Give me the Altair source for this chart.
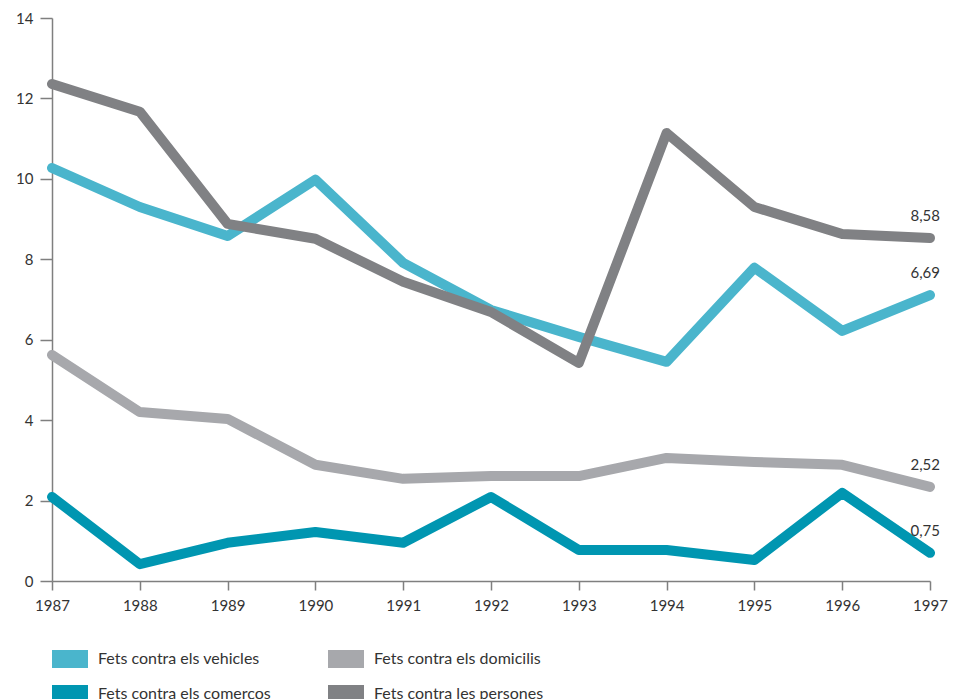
import altair as alt
import pandas as pd

years = list(range(1987, 1998))
vehicles = [10.27, 9.30, 8.58, 9.98, 7.91, 6.74, 6.07, 5.45, 7.79, 6.22, 7.11]
domicilis = [5.62, 4.20, 4.03, 2.89, 2.54, 2.61, 2.61, 3.06, 2.96, 2.89, 2.34]
comercos = [2.09, 0.42, 0.95, 1.22, 0.95, 2.09, 0.77, 0.77, 0.52, 2.19, 0.70]
persones = [12.36, 11.67, 8.88, 8.51, 7.44, 6.69, 5.42, 11.14, 9.30, 8.63, 8.53]

series_names = ["Fets contra els vehicles", "Fets contra els domicilis",
                "Fets contra els comerços", "Fets contra les persones"]
series_colors = ["#4ab5cc", "#a7a8ac", "#0096b1", "#808184"]
end_labels = ["6,69", "2,52", "0,75", "8,58"]
series_values = [vehicles, domicilis, comercos, persones]

rows = []
for name, vals in zip(series_names, series_values):
    for y, v in zip(years, vals):
        rows.append({"year": y, "value": v, "serie": name})
df = pd.DataFrame(rows)

lab_df = pd.DataFrame({
    "year": [years[-1]] * 4,
    "value": [vals[-1] for vals in series_values],
    "label": end_labels,
})

FONT = "Lato"

x_enc = alt.X("year:Q", scale=alt.Scale(domain=[1987, 1997], nice=False, zero=False),
              axis=alt.Axis(values=years, format="d", title=None, grid=False,
                            tickSize=9, labelPadding=8, labelFontSize=15, labelFlush=False,
                            labelColor="#333333", domainColor="#7f7f7f", tickColor="#7f7f7f",
                            domainWidth=1.5, tickWidth=1.5, labelFont=FONT))
y_enc = alt.Y("value:Q", scale=alt.Scale(domain=[0, 14], nice=False),
              axis=alt.Axis(values=[0, 2, 4, 6, 8, 10, 12, 14], title=None, grid=False,
                            tickSize=12, labelPadding=7, labelFontSize=15, labelFlush=False,
                            labelColor="#333333", domainColor="#7f7f7f", tickColor="#7f7f7f",
                            domainWidth=1.5, tickWidth=1.5, labelFont=FONT))

color_scale = alt.Scale(domain=series_names, range=series_colors)

# zero-height area layer: only provides filled legend swatches
swatches = alt.Chart(df).mark_area(opacity=1, strokeWidth=0).encode(
    x=x_enc,
    y=y_enc,
    y2=alt.Y2("value:Q"),
    color=alt.Color("serie:N", scale=color_scale, sort=series_names,
                    legend=alt.Legend(title=None, orient="none", legendX=0, legendY=623,
                                      columns=2, direction="horizontal",
                                      symbolType="M-1,-0.5H1V0.5H-1Z", symbolSize=1296,
                                      symbolStrokeWidth=0, symbolOpacity=1,
                                      labelFontSize=16, labelFont=FONT, labelColor="#333333",
                                      labelOffset=10, columnPadding=57, rowPadding=8,
                                      padding=0, labelLimit=400)),
)

lines = alt.Chart(df).mark_line(strokeWidth=10, strokeCap="round", strokeJoin="round").encode(
    x=x_enc,
    y=y_enc,
    color=alt.Color("serie:N", scale=color_scale, sort=series_names, legend=None),
)

labels = alt.Chart(lab_df).mark_text(align="right", baseline="middle", dx=10, dy=-22,
                                     fontSize=15, font=FONT, color="#333333").encode(
    x=alt.X("year:Q"), y=alt.Y("value:Q"), text="label:N")

chart = alt.layer(swatches, lines, labels).properties(
    width=878, height=563,
    autosize=alt.AutoSizeParams(type="none"),
    padding={"left": 44, "top": 10, "right": 24, "bottom": 130},
).configure_view(stroke=None)

chart.save("out.html", embed_options={"renderer": "svg", "actions": False})
